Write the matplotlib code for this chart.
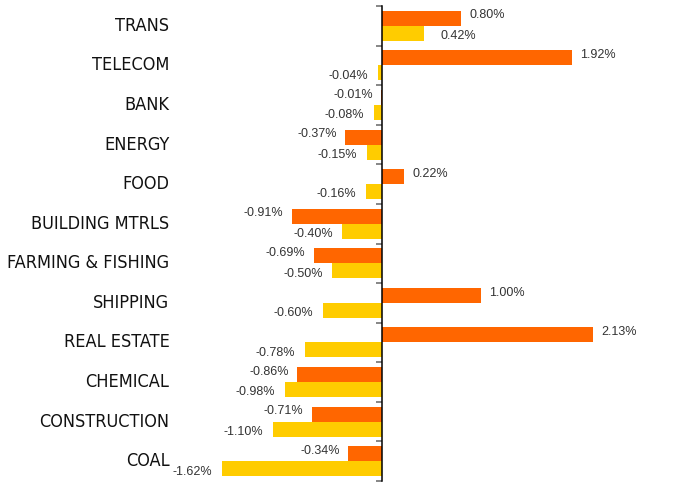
import matplotlib.pyplot as plt
import numpy as np

# sector names, top to bottom
sectors = ['TRANS', 'TELECOM', 'BANK', 'ENERGY', 'FOOD', 'BUILDING MTRLS',
           'FARMING & FISHING', 'SHIPPING', 'REAL ESTATE', 'CHEMICAL',
           'CONSTRUCTION', 'COAL']
# orange series (%)
series_a = [0.80, 1.92, -0.01, -0.37, 0.22, -0.91, -0.69, 1.00, 2.13, -0.86, -0.71, -0.34]
# yellow series (%)
series_b = [0.42, -0.04, -0.08, -0.15, -0.16, -0.40, -0.50, -0.60, -0.78, -0.98, -1.10, -1.62]

orange = '#FF6600'
yellow = '#FFCC00'

fig = plt.figure(figsize=(6.89, 4.82), dpi=100)
ax = fig.add_axes([172 / 689, 1 - 481 / 482, 1 - 172 / 689, 475 / 482])

y = np.arange(len(sectors))
h = 0.38
ax.barh(y - h / 2, series_a, height=h, color=orange)
ax.barh(y + h / 2, series_b, height=h, color=yellow)

ax.set_xlim(-2.121, 3.101)
ax.set_ylim(len(sectors) - 0.5, -0.5)

# value labels
for yi, v in zip(y, series_a):
    dx = 6 if v >= 0 else -6
    ax.annotate(f'{v:.2f}%', (v, yi - h / 2), xytext=(dx, 2), textcoords='offset points',
                ha='left' if v >= 0 else 'right', va='center', fontsize=9,
                color='#333333', family='Liberation Sans')
for yi, v in zip(y, series_b):
    dx = 12 if v >= 0 else -7
    ax.annotate(f'{v:.2f}%', (v, yi + h / 2), xytext=(dx, -2), textcoords='offset points',
                ha='left' if v >= 0 else 'right', va='center', fontsize=9,
                color='#333333', family='Liberation Sans')

# category labels
for yi, name in zip(y, sectors):
    ax.text(-0.005, yi, name, transform=ax.get_yaxis_transform(), ha='right', va='center',
            fontsize=13, family='DejaVu Sans', stretch='condensed', color='#111111')

# axis line at zero with boundary ticks
for s in ['top', 'right', 'bottom']:
    ax.spines[s].set_visible(False)
ax.spines['left'].set_position(('data', 0))
ax.spines['left'].set_linewidth(1.1)
ax.set_xticks([])
ax.set_yticks(np.arange(-0.5, len(sectors), 1.0))
ax.set_yticklabels([])
ax.tick_params(axis='y', direction='out', length=4, width=1.1, color='#666666')
ax.get_yticklines()[0].set_color('black')

fig.savefig('out.png', dpi=100)
